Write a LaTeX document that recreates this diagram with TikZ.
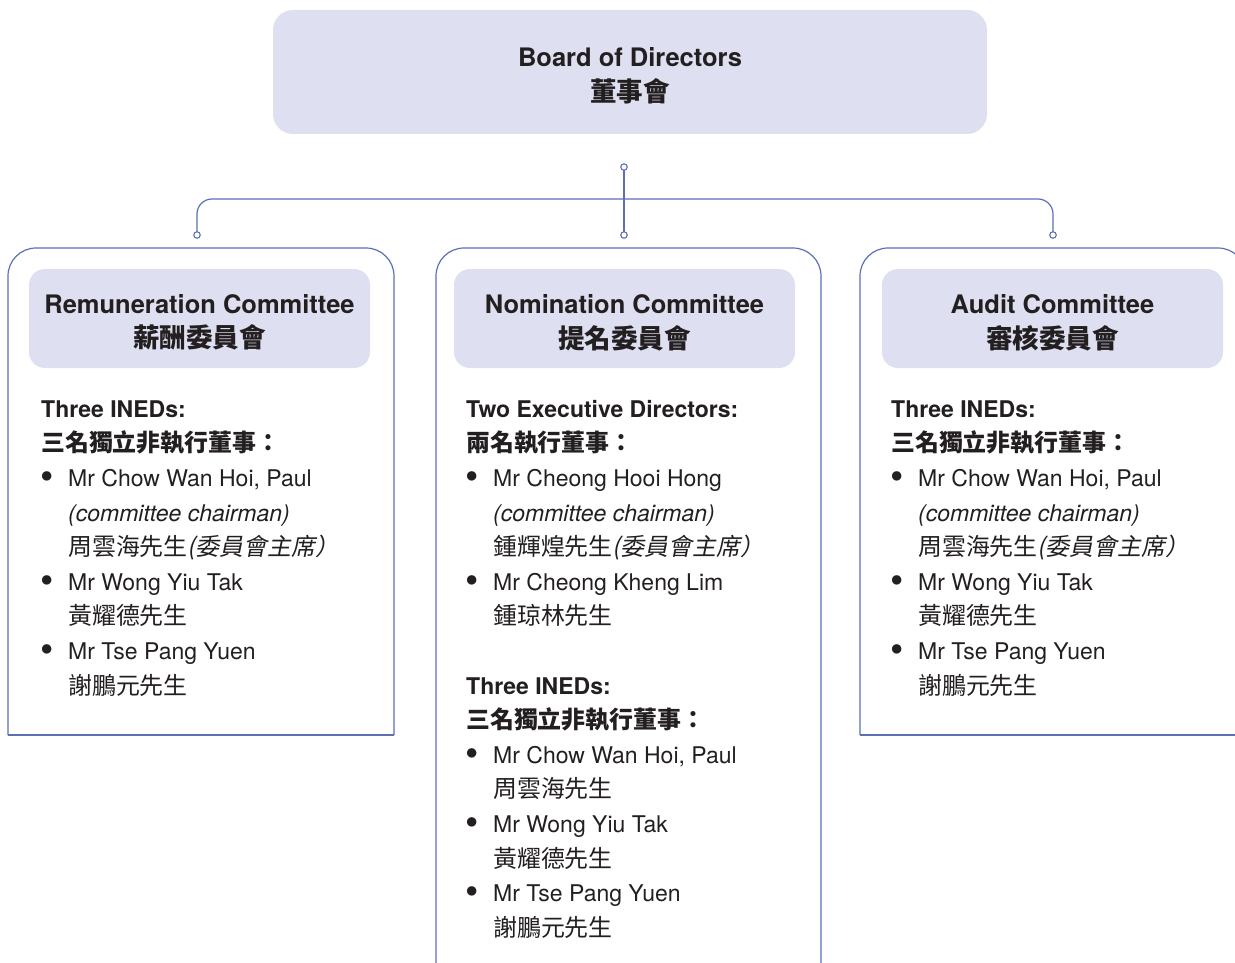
\documentclass[tikz,border=0pt]{standalone}
\usepackage{fontspec}
\setmainfont{TeX Gyre Heros}
\newfontfamily\cjk[Scale=1.04]{Noto Sans CJK TC}
\newfontfamily\cjkit[Scale=1.04,FakeSlant=0.2]{Noto Sans CJK TC}
\usetikzlibrary{positioning}
\definecolor{lineblue}{HTML}{5B6FB6}
\definecolor{lavender}{HTML}{DEE0F1}
\definecolor{ink}{HTML}{231F20}
\newcommand\bulletitem{\makebox[27pt][l]{\hspace{-0.5pt}\raisebox{-3pt}{\fontsize{38}{34.6}\selectfont\textbullet}}}
\newcommand\bulletcont{\hspace*{27pt}}
\newcommand\headstrut{\rule{0pt}{27pt}}

\begin{document}
\begin{tikzpicture}[x=1pt,y=-1pt,text=ink,font=\fontsize{23}{34.6}\selectfont,
  panel/.style={fill=lavender,draw=none,rounded corners=16pt,align=center,inner sep=0pt,
    minimum width=341pt,minimum height=99pt,font=\fontsize{25.5}{34.6}\selectfont\bfseries},
  frame/.style={draw=lineblue,line width=1.2pt,rounded corners=28pt},
  bus/.style={draw=lineblue,line width=1.2pt},
  dot/.style={circle,draw=lineblue,fill=white,line width=1.1pt,inner sep=0pt,minimum size=6.5pt},
  members/.style={anchor=north west,align=left,inner sep=0pt}]
\useasboundingbox (0,0) rectangle (1235,963);
\clip (0,0) rectangle (1235,963);

% board
\node[panel,minimum width=714pt,minimum height=124pt,rounded corners=20pt] (board) at (630,72) {\headstrut Board of Directors\\{\cjk 董事會}};

% committee frames
\draw[frame] (8,735) -- (8,248) -- (394,248) -- (394,735);
\draw[frame] (8,735) -- (394,735);
\draw[frame] (436,990) -- (436,248) -- (821,248) -- (821,990);
\draw[frame] (860,735) -- (860,248) -- (1246,248) -- (1246,735);
\draw[frame] (860,735) -- (1246,735);

% headers
\node[panel] (remHead) at (199.5,318.5) {\headstrut Remuneration Committee\\{\cjk 薪酬委員會}};
\node[panel] (nomHead) at (624.5,318.5) {\headstrut Nomination Committee\\{\cjk 提名委員會}};
\node[panel] (audHead) at (1052.5,318.5) {\headstrut Audit Committee\\{\cjk 審核委員會}};

% members
\node[members] (remBody) at (41,392.8) {{\bfseries\strut Three INEDs:}\\
  {\cjk\bfseries 三名獨立非執行董事：}\\
  \bulletitem Mr Chow Wan Hoi, Paul\\
  \bulletcont\textit{(committee chairman)}\\
  \bulletcont{\cjk 周雲海先生}{\cjkit (委員會主席）}\\
  \bulletitem Mr Wong Yiu Tak\\
  \bulletcont{\cjk 黃耀德先生}\\
  \bulletitem Mr Tse Pang Yuen\\
  \bulletcont{\cjk 謝鵬元先生}};
\node[members] (nomBody) at (466,392.8) {{\bfseries\strut Two Executive Directors:}\\
  {\cjk\bfseries 兩名執行董事：}\\
  \bulletitem Mr Cheong Hooi Hong\\
  \bulletcont\textit{(committee chairman)}\\
  \bulletcont{\cjk 鍾輝煌先生}{\cjkit (委員會主席）}\\
  \bulletitem Mr Cheong Kheng Lim\\
  \bulletcont{\cjk 鍾琼林先生}\\[34.6pt]
  {\bfseries Three INEDs:}\\
  {\cjk\bfseries 三名獨立非執行董事：}\\
  \bulletitem Mr Chow Wan Hoi, Paul\\
  \bulletcont{\cjk 周雲海先生}\\
  \bulletitem Mr Wong Yiu Tak\\
  \bulletcont{\cjk 黃耀德先生}\\
  \bulletitem Mr Tse Pang Yuen\\
  \bulletcont{\cjk 謝鵬元先生}};
\node[members] (audBody) at (891,392.8) {{\bfseries\strut Three INEDs:}\\
  {\cjk\bfseries 三名獨立非執行董事：}\\
  \bulletitem Mr Chow Wan Hoi, Paul\\
  \bulletcont\textit{(committee chairman)}\\
  \bulletcont{\cjk 周雲海先生}{\cjkit (委員會主席）}\\
  \bulletitem Mr Wong Yiu Tak\\
  \bulletcont{\cjk 黃耀德先生}\\
  \bulletitem Mr Tse Pang Yuen\\
  \bulletcont{\cjk 謝鵬元先生}};

% connectors
\coordinate (hub) at (624,167);
\coordinate (busMid) at (624,199);
\coordinate (dropRem) at (197,235);
\coordinate (dropNom) at (624,235);
\coordinate (dropAud) at (1053,235);
\draw[bus] (hub) -- (dropNom);
\draw[bus,rounded corners=15pt] (dropRem) |- (busMid) -| (dropAud);
\foreach \p in {hub,dropRem,dropNom,dropAud}
  \node[dot] (dot-\p) at (\p) {};
\end{tikzpicture}
\end{document}
